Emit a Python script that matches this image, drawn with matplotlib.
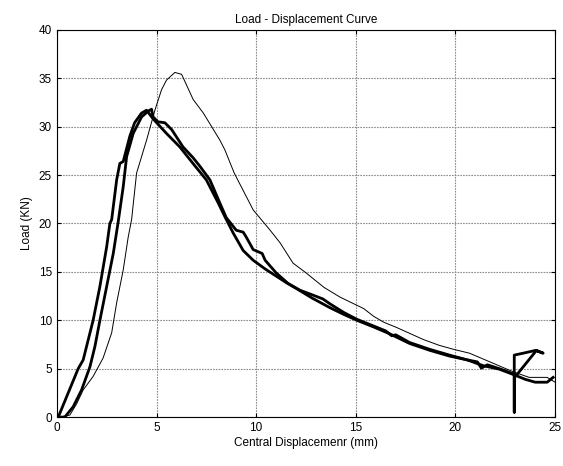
import matplotlib
matplotlib.use('Agg')
import matplotlib.pyplot as plt

plt.rcParams.update({'font.size': 8.5, 'font.family': ['Liberation Sans', 'DejaVu Sans']})

# Curve A (thick, left rising branch, smooth descent)
disp_a = [0, 0.07, 0.49, 1.07, 1.32, 1.82, 2.16, 2.5, 2.66, 2.75, 3.0, 3.16, 3.33, 3.66, 3.9,
          4.25, 4.5, 4.83, 5.5, 6.17, 6.83, 7.5, 8.1, 8.43, 8.85, 9.35, 9.85, 10.45, 11.5, 12.0,
          12.8, 13.7, 14.4, 15.05, 15.9, 16.7, 17.7, 18.7, 19.7, 20.6, 21.4, 22.2, 22.9, 23.5,
          24.0, 24.6, 24.9]
load_a = [0, 0, 2.1, 5.0, 5.9, 10.0, 13.5, 17.6, 20.0, 20.4, 24.5, 26.2, 26.4, 29.0, 30.4,
          31.4, 31.7, 30.8, 29.3, 27.9, 26.2, 24.5, 22.1, 20.7, 19.0, 17.2, 16.2, 15.3, 13.9, 13.3,
          12.3, 11.3, 10.6, 10.0, 9.3, 8.6, 7.6, 6.9, 6.3, 5.9, 5.3, 4.95, 4.4, 3.9,
          3.6, 3.6, 4.1]

# Curve B (thick, wiggly descent, spike near the end)
disp_b = [0, 0.4, 0.82, 1.24, 1.66, 1.91, 2.16, 2.5, 2.83, 3.08, 3.33, 3.5, 3.83, 4.25, 4.58,
          4.75, 4.83, 5.07, 5.42, 5.76, 6.33, 6.83, 7.18, 7.68, 8.18, 8.5, 9.0, 9.35, 9.5,
          9.85, 10.3, 10.45, 11.0, 11.6, 12.2, 12.85, 13.35, 13.7, 14.4, 15.05, 15.9, 16.5,
          16.8, 17.0, 17.7, 18.7, 19.7, 20.6, 21.1, 21.3, 21.6, 22.2, 22.6, 22.95, 22.95,
          22.95, 23.4, 24.05, 24.4, 24.05, 23.05]
load_b = [0, 0, 1.07, 2.8, 5.2, 7.3, 10.0, 13.5, 16.9, 20.2, 23.8, 26.9, 29.3, 31.0, 31.6,
          31.8, 31.0, 30.5, 30.4, 29.7, 27.9, 26.8, 25.9, 24.5, 22.1, 20.6, 19.3, 19.1, 18.6,
          17.3, 16.9, 16.2, 14.9, 13.8, 13.1, 12.6, 12.2, 11.7, 10.8, 10.1, 9.4, 8.9,
          8.4, 8.5, 7.7, 7.0, 6.4, 5.9, 5.7, 5.05, 5.4, 5.0, 4.7, 4.4, 0.5,
          6.4, 6.6, 6.9, 6.6, 6.85, 4.3]

# Curve C (thin, later and higher peak)
disp_c = [0.15, 0.65, 1.0, 1.32, 1.82, 2.32, 2.75, 3.0, 3.33, 3.58, 3.75, 4.0, 4.5, 4.92,
          5.25, 5.5, 5.92, 6.26, 6.84, 7.35, 8.18, 8.43, 8.9, 9.85, 10.7, 11.2, 11.85, 12.5,
          13.4, 14.2, 14.9, 15.4, 15.9, 16.4, 17.05, 18.4, 19.2, 19.9, 20.7, 21.9, 22.9,
          23.7, 24.6, 25.0]
load_c = [0, 0.2, 1.4, 2.8, 4.2, 6.1, 8.7, 11.8, 15.2, 18.6, 20.4, 25.2, 28.6, 31.7,
          33.8, 34.8, 35.6, 35.4, 32.8, 31.4, 28.6, 27.6, 25.2, 21.4, 19.3, 18.0, 15.9, 14.9,
          13.4, 12.4, 11.7, 11.2, 10.4, 9.8, 9.25, 8.0, 7.4, 7.0, 6.6, 5.55, 4.67,
          4.1, 4.1, 3.6]

fig = plt.figure(figsize=(5.63, 4.66), dpi=100)
ax = fig.add_axes([0.101, 0.105, 0.885, 0.831])

ax.plot(disp_c, load_c, color='black', linewidth=0.7)
ax.plot(disp_a, load_a, color='black', linewidth=2.0)
ax.plot(disp_b, load_b, color='black', linewidth=2.0)

ax.set_xlim(0, 25)
ax.set_ylim(0, 40)
ax.set_xticks(range(0, 26, 5))
ax.set_yticks(range(0, 41, 5))
ax.tick_params(direction='in', length=3, top=True, right=True, width=0.8)
ax.grid(True, color='#8c8c8c', linestyle=(0, (1.5, 1)), linewidth=0.8)
for s in ax.spines.values():
    s.set_linewidth(0.8)

ax.set_title('Load - Displacement Curve', fontsize=8.5, pad=5)
ax.set_xlabel('Central Displacemenr (mm)', labelpad=2)
ax.set_ylabel('Load (KN)', labelpad=4)

plt.savefig('out.png', dpi=100)
